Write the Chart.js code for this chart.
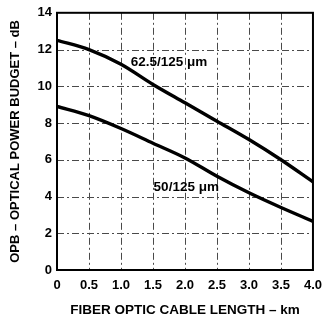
<!DOCTYPE html>
<html><head><meta charset="utf-8">
<script src="https://cdn.jsdelivr.net/npm/chart.js@4.4.1/dist/chart.umd.min.js"></script>
<style>html,body{margin:0;padding:0;background:#fff}#wrap{width:330px;height:318px}</style>
</head><body><div id="wrap"><canvas id="c" width="330" height="318"></canvas></div>
<script>
const lengthKm = [0, 0.5, 1.0, 1.5, 2.0, 2.5, 3.0, 3.5, 4.0];
const budget625 = [12.5, 12.0, 11.2, 10.1, 9.1, 8.1, 7.1, 6.0, 4.8];
const budget50 = [8.9, 8.4, 7.7, 6.9, 6.1, 5.1, 4.2, 3.4, 2.65];
const seriesNames = ['62.5/125 μm', '50/125 μm'];
const labelAnchors = [[1.75, 11.3], [2.02, 4.5]];
const xGridValues = [0.5, 1.0, 1.5, 2.0, 2.5, 3.0, 3.5];
const yGridValues = [2, 4, 6, 8, 10, 12];

const FONT = 'Liberation Sans, Arial, sans-serif';
const gridDash = [7, 3, 2, 3];

const decor = {
  id: 'decor',
  beforeDatasetsDraw(chart) {
    const {ctx, chartArea: a, scales: {x, y}} = chart;
    ctx.save();
    ctx.strokeStyle = '#4a4a4a';
    ctx.lineWidth = 1;
    ctx.setLineDash(gridDash);
    xGridValues.forEach(v => {
      const px = Math.round(x.getPixelForValue(v)) + 0.5;
      ctx.beginPath(); ctx.moveTo(px, a.top); ctx.lineTo(px, a.bottom); ctx.stroke();
    });
    yGridValues.forEach(v => {
      const py = Math.round(y.getPixelForValue(v)) + 0.5;
      ctx.beginPath(); ctx.moveTo(a.left, py); ctx.lineTo(a.right, py); ctx.stroke();
    });
    ctx.restore();
  },
  afterDatasetsDraw(chart) {
    const {ctx, chartArea: a, scales: {x, y}} = chart;
    ctx.save();
    ctx.strokeStyle = '#000';
    ctx.lineWidth = 2;
    ctx.strokeRect(a.left, a.top, a.right - a.left, a.bottom - a.top);
    ctx.fillStyle = '#000';
    ctx.font = 'bold 13.5px ' + FONT;
    ctx.textAlign = 'center';
    ctx.textBaseline = 'middle';
    seriesNames.forEach((n, i) => {
      ctx.fillText(n, x.getPixelForValue(labelAnchors[i][0]), y.getPixelForValue(labelAnchors[i][1]));
    });
    ctx.restore();
  }
};

new Chart(document.getElementById('c'), {
  type: 'line',
  data: {
    datasets: [
      {label: seriesNames[0], data: lengthKm.map((k, i) => ({x: k, y: budget625[i]}))},
      {label: seriesNames[1], data: lengthKm.map((k, i) => ({x: k, y: budget50[i]}))}
    ]
  },
  options: {
    responsive: false,
    animation: false,
    devicePixelRatio: 1,
    layout: {padding: {top: 4, right: 3, left: 0, bottom: 0}},
    elements: {
      line: {borderColor: '#000', borderWidth: 3.4, tension: 0.4, cubicInterpolationMode: 'monotone', fill: false},
      point: {radius: 0}
    },
    plugins: {legend: {display: false}, tooltip: {enabled: false}},
    scales: {
      x: {
        type: 'linear', min: 0, max: 4,
        afterFit: s => { s.height = 48; },
        ticks: {stepSize: 0.5, color: '#000', font: {family: FONT, size: 13, weight: 'bold'}, padding: 8,
          callback: v => v === 0 ? '0' : v.toFixed(1)},
        grid: {display: false, drawTicks: false},
        border: {display: true, color: '#000', width: 2},
        title: {display: true, text: 'FIBER OPTIC CABLE LENGTH – km', color: '#000', font: {family: FONT, size: 13.5, weight: 'bold'}, padding: {top: 0, bottom: 0}}
      },
      y: {
        type: 'linear', min: 0, max: 14,
        afterFit: s => { s.width = 57; },
        ticks: {stepSize: 2, color: '#000', font: {family: FONT, size: 13, weight: 'bold'}, padding: 5},
        grid: {display: false, drawTicks: false},
        border: {display: true, color: '#000', width: 2},
        title: {display: true, text: 'OPB – OPTICAL POWER BUDGET – dB', color: '#000', font: {family: FONT, size: 13, weight: 'bold'}, padding: {top: 8, bottom: 0}}
      }
    }
  },
  plugins: [decor]
});
</script>
</body></html>
